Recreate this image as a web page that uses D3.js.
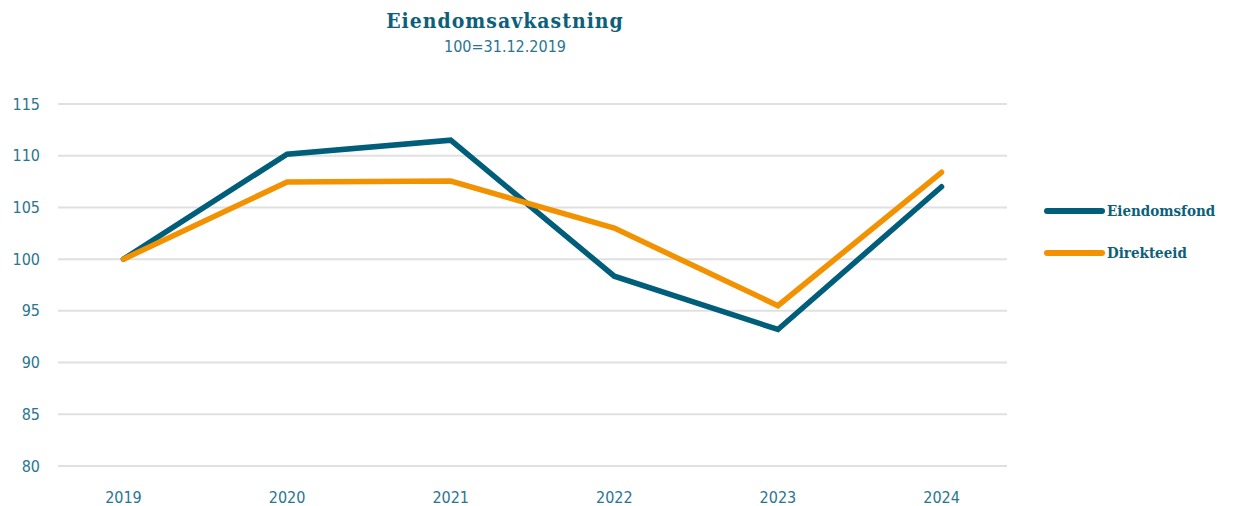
<!DOCTYPE html>
<html>
<head>
<meta charset="utf-8">
<script src="https://cdn.jsdelivr.net/npm/d3@7"></script>
<style>
  body { margin: 0; background: #fff; }
  svg { display: block; }
</style>
</head>
<body>
<svg width="1242" height="506"></svg>
<script>
'use strict';

// data
const years = ["2019", "2020", "2021", "2022", "2023", "2024"];
const eiendomsfond = [100, 110.15, 111.5, 98.35, 93.2, 107.0];
const direkteeid = [100, 107.45, 107.55, 103.0, 95.5, 108.4];
const yTicks = [80, 85, 90, 95, 100, 105, 110, 115];

const seriesNames = ["Eiendomsfond", "Direkteeid"];
const seriesColors = ["#005e7b", "#f39200"];

let svg = d3.select("svg"),
    width = +svg.attr("width"),
    height = +svg.attr("height"),
    marge = {top: 104, bottom: 40, left: 58, right: 235};

const slab = "'DejaVu Serif Condensed', 'DejaVu Serif', serif";
const narrow = "'Liberation Sans Narrow', 'DejaVu Sans Condensed', sans-serif";
const textCol = "#2a7590";

let x = d3.scalePoint()
    .domain(years)
    .range([marge.left, width - marge.right])
    .padding(0.4);

let y = d3.scaleLinear()
    .domain([80, 115])
    .range([466, marge.top]);

// gridlines
svg.append("g")
    .selectAll("line")
    .data(yTicks)
    .enter()
    .append("line")
    .attr("x1", marge.left)
    .attr("x2", width - marge.right)
    .attr("y1", d => y(d))
    .attr("y2", d => y(d))
    .attr("stroke", "#e0e0e0")
    .attr("stroke-width", 2);

// y labels
svg.append("g")
    .selectAll("text")
    .data(yTicks)
    .enter()
    .append("text")
    .attr("x", 40)
    .attr("y", d => y(d))
    .attr("dy", "0.35em")
    .attr("text-anchor", "end")
    .attr("font-family", narrow)
    .attr("font-size", 16)
    .attr("fill", textCol)
    .text(d => d);

// x labels
svg.append("g")
    .selectAll("text")
    .data(years)
    .enter()
    .append("text")
    .attr("x", d => x(d))
    .attr("y", 503)
    .attr("text-anchor", "middle")
    .attr("font-family", narrow)
    .attr("font-size", 16)
    .attr("fill", textCol)
    .text(d => d);

// lines
let line = d3.line()
    .x((d, i) => x(years[i]))
    .y(d => y(d));

[eiendomsfond, direkteeid].forEach(function(vals, i) {
    svg.append("path")
        .datum(vals)
        .attr("d", line)
        .attr("fill", "none")
        .attr("stroke", seriesColors[i])
        .attr("stroke-width", 5.5)
        .attr("stroke-linejoin", "miter")
        .attr("stroke-linecap", "round");
});

// legend
let leg = svg.append("g")
    .selectAll("g")
    .data(seriesNames)
    .enter()
    .append("g")
    .attr("transform", (d, i) => "translate(1047," + (211 + i * 42) + ")");
leg.append("line")
    .attr("x1", 0)
    .attr("x2", 55)
    .attr("stroke", (d, i) => seriesColors[i])
    .attr("stroke-width", 6)
    .attr("stroke-linecap", "round");
leg.append("text")
    .attr("x", 60)
    .attr("dy", "0.35em")
    .attr("font-family", slab)
    .attr("font-weight", "bold")
    .attr("font-size", 15)
    .attr("fill", "#0d5f7a")
    .text(d => d);

// title
svg.append("text")
    .attr("x", 505)
    .attr("y", 28)
    .attr("text-anchor", "middle")
    .attr("font-family", slab)
    .attr("font-weight", "bold")
    .attr("font-size", 21)
    .attr("letter-spacing", 1)
    .attr("fill", "#0d5f7a")
    .text("Eiendomsavkastning");
svg.append("text")
    .attr("x", 505)
    .attr("y", 52)
    .attr("text-anchor", "middle")
    .attr("font-family", narrow)
    .attr("font-size", 16)
    .attr("fill", textCol)
    .text("100=31.12.2019");
</script>
</body>
</html>
